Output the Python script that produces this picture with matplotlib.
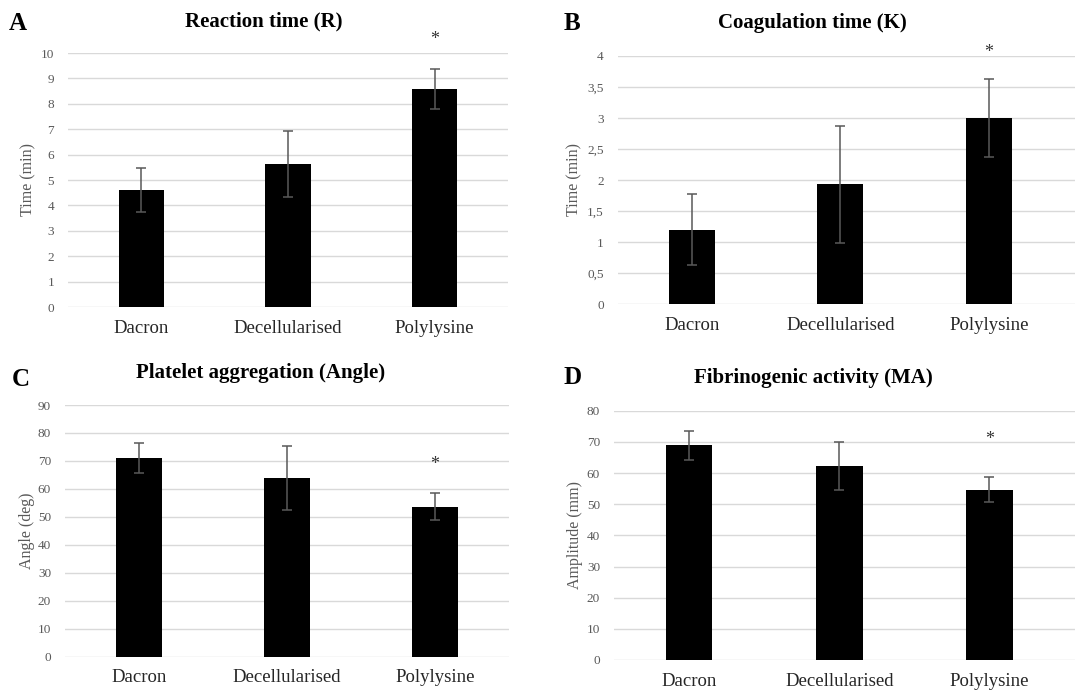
import matplotlib
matplotlib.use("Agg")
import matplotlib.pyplot as plt

plt.rcParams['font.family'] = ['Liberation Serif', 'DejaVu Serif']

categories = ["Dacron", "Decellularised", "Polylysine"]

# Panel A: Reaction time (R)
r_values = [4.6, 5.64, 8.59]
r_errors = [0.86, 1.3, 0.79]
r_ticks = [0, 1, 2, 3, 4, 5, 6, 7, 8, 9, 10]
r_ticklabels = ["0", "1", "2", "3", "4", "5", "6", "7", "8", "9", "10"]

# Panel B: Coagulation time (K)
k_values = [1.2, 1.93, 3.0]
k_errors = [0.57, 0.94, 0.63]
k_ticks = [0, 0.5, 1, 1.5, 2, 2.5, 3, 3.5, 4]
k_ticklabels = ["0", "0,5", "1", "1,5", "2", "2,5", "3", "3,5", "4"]

# Panel C: Platelet aggregation (Angle)
a_values = [71.0, 63.9, 53.7]
a_errors = [5.4, 11.3, 4.9]
a_ticks = [0, 10, 20, 30, 40, 50, 60, 70, 80, 90]
a_ticklabels = ["0", "10", "20", "30", "40", "50", "60", "70", "80", "90"]

# Panel D: Fibrinogenic activity (MA)
m_values = [68.9, 62.4, 54.7]
m_errors = [4.6, 7.7, 4.0]
m_ticks = [0, 10, 20, 30, 40, 50, 60, 70, 80]
m_ticklabels = ["0", "10", "20", "30", "40", "50", "60", "70", "80"]

# Significance markers (index of category, y position)
r_star = (2, 10.55)
k_star = (2, 4.05)
a_star = (2, 68.8)
m_star = (2, 70.9)

W, H = 1075, 691
fig = plt.figure(figsize=(W / 100, H / 100), dpi=100)

GRAY = "#595959"
GRID = "#d9d9d9"


def add_panel(x0, x1, ytop, ybot, values, errors, ticks, ticklabels, star,
              xright=2.5):
    ax = fig.add_axes([x0 / W, 1 - ybot / H, (x1 - x0) / W, (ybot - ytop) / H])
    xs = list(range(len(categories)))
    ax.bar(xs, values, width=0.31, color="black", zorder=3)
    ax.errorbar(xs, values, yerr=errors, fmt="none", ecolor=GRAY,
                elinewidth=1.1, capsize=3.5, capthick=1.1, zorder=4)
    ax.set_xlim(-0.5, xright)
    ax.set_ylim(ticks[0], ticks[-1])
    ax.set_yticks(ticks)
    ax.set_yticklabels(ticklabels)
    ax.set_xticks(xs)
    ax.set_xticklabels(categories)
    for s in ax.spines.values():
        s.set_visible(False)
    ax.yaxis.grid(True, color=GRID, linewidth=1.0, zorder=0)
    ax.set_axisbelow(True)
    ax.tick_params(axis="y", length=0, pad=10, labelsize=9.5, labelcolor=GRAY)
    ax.tick_params(axis="x", length=0, pad=9, labelsize=13.5, labelcolor="#262626")
    ax.text(star[0], star[1], "*", ha="center", va="center", fontsize=13,
            color="#333333", clip_on=False)
    return ax


add_panel(68, 508, 53, 307, r_values, r_errors, r_ticks, r_ticklabels, r_star)
add_panel(617.7, 1075, 56, 304.3, k_values, k_errors, k_ticks, k_ticklabels, k_star,
          xright=2.58)
add_panel(65, 509, 405, 656.7, a_values, a_errors, a_ticks, a_ticklabels, a_star)
add_panel(614, 1075, 410.7, 660, m_values, m_errors, m_ticks, m_ticklabels, m_star,
          xright=2.57)

# Titles
titles = [("Reaction time (R)", 263.5, 21),
          ("Coagulation time (K)", 812, 23),
          ("Platelet aggregation (Angle)", 261, 373),
          ("Fibrinogenic activity (MA)", 813, 378)]
for t, x, y in titles:
    fig.text(x / W, 1 - y / H, t, ha="center", va="center", fontsize=15,
             fontweight="bold", color="black")

# Panel letters
letters = [("A", 9, 23), ("B", 564, 23), ("C", 12, 380), ("D", 563, 378)]
for t, x, y in letters:
    fig.text(x / W, 1 - y / H, t, ha="left", va="center", fontsize=18,
             fontweight="bold", color="black")

# Y axis labels
ylabels = [("Time (min)", 28, 180), ("Time (min)", 574, 180),
           ("Angle (deg)", 27, 531), ("Amplitude (mm)", 575, 535)]
for t, x, y in ylabels:
    fig.text(x / W, 1 - y / H, t, ha="center", va="center", fontsize=11.5,
             rotation=90, color=GRAY)

fig.savefig("out.png", dpi=100)
